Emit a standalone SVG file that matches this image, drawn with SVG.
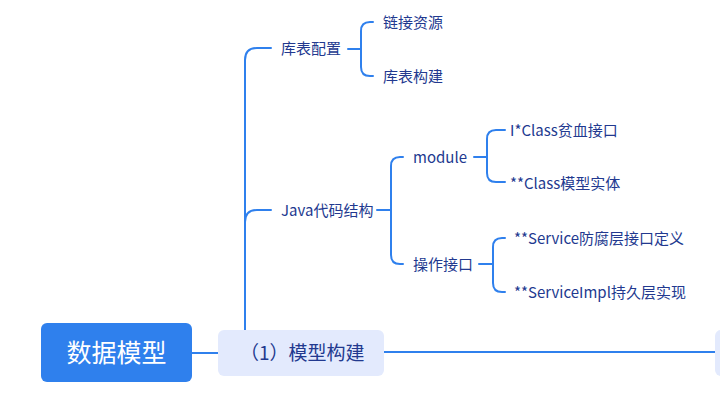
<svg xmlns="http://www.w3.org/2000/svg" width="720" height="409" viewBox="0 0 720 409">
<style>
.ln{fill:none;stroke:#2f80ed;stroke-width:2;stroke-linecap:round}
.t{font-family:"Noto Sans CJK SC","Noto Sans",sans-serif;font-size:15px;fill:#22398f}
.sub{fill:#e3eafd}
</style>
<rect width="720" height="409" fill="#ffffff"/>
<g id="connectors">
<line class="ln" x1="192" y1="353" x2="218" y2="353"/>
<line class="ln" x1="384" y1="352" x2="716" y2="352"/>
<path class="ln" d="M245,330 V60 Q245,48 257,48 H271"/>
<path class="ln" d="M245,222 Q245,210 257,210 H271"/>
<path class="ln" d="M348,49 H361"/>
<path class="ln" d="M373,22 H370 Q361,22 361,31 V67 Q361,76 370,76 H373"/>
<path class="ln" d="M377,210 H391"/>
<path class="ln" d="M403,157 H400 Q391,157 391,166 V255 Q391,264 400,264 H403"/>
<path class="ln" d="M474,157 H487"/>
<path class="ln" d="M505,130 H496 Q487,130 487,139 V173 Q487,182 496,182 H505"/>
<path class="ln" d="M479,264 H493"/>
<path class="ln" d="M505,238 H502 Q493,238 493,247 V283 Q493,292 502,292 H505"/>
</g>
<g id="root">
<rect x="41" y="323" width="151" height="59" rx="6" fill="#2f80ed"/>
<text x="116.5" y="362" text-anchor="middle" font-family="Noto Sans CJK SC, sans-serif" font-size="25" fill="#ffffff">数据模型</text>
</g>
<g id="n1">
<rect class="sub" x="218" y="330" width="166" height="46" rx="6"/>
<text x="240" y="359.5" font-family="Noto Sans CJK SC, sans-serif" font-size="19" fill="#22398f">（1）模型构建</text>
</g>
<g id="n2">
<rect class="sub" x="715" y="330" width="60" height="46" rx="6"/>
</g>
<g id="kbpz"><text class="t" x="281" y="53.5">库表配置</text></g>
<g id="ljzy"><text class="t" x="383" y="27.5">链接资源</text></g>
<g id="kbgj"><text class="t" x="383" y="81.5">库表构建</text></g>
<g id="java"><text class="t" x="281" y="215.5">Java代码结构</text></g>
<g id="module"><text class="t" x="413" y="162.5">module</text></g>
<g id="czjk"><text class="t" x="413" y="269.5">操作接口</text></g>
<g id="iclass"><text class="t" x="510" y="135.5">I*Class贫血接口</text></g>
<g id="class"><text class="t" x="510" y="188.5">**Class模型实体</text></g>
<g id="service"><text class="t" x="514" y="243.5">**Service防腐层接口定义</text></g>
<g id="serviceimpl"><text class="t" x="514" y="297.5">**ServiceImpl持久层实现</text></g>
</svg>
